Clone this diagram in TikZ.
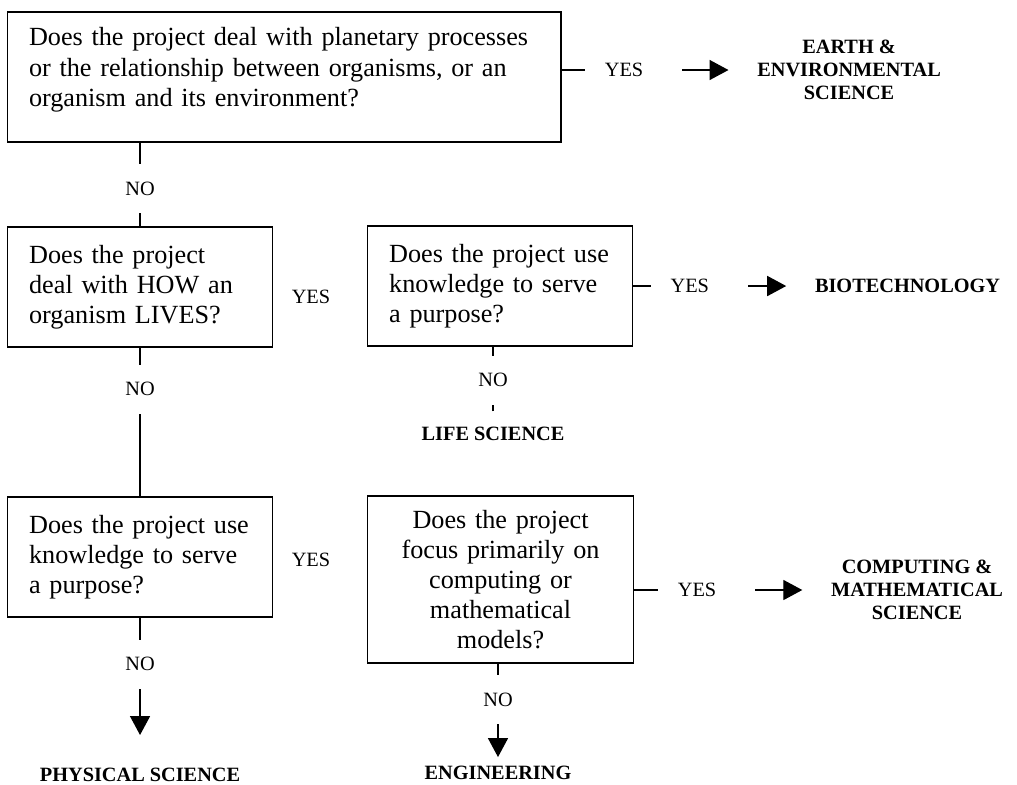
\documentclass[tikz,border=0pt]{standalone}
\usepackage{fontspec}
\setmainfont{Liberation Serif}
\usetikzlibrary{arrows.meta}

\begin{document}
\begin{tikzpicture}
\tikzstyle{question}=[rectangle,draw,line width=0.6pt,align=left,text width=3.57cm,inner xsep=10pt,inner ysep=3pt,minimum height=1.93cm,font=\fontsize{12}{13.8}\selectfont]
\tikzstyle{result}=[align=center,inner xsep=13pt,inner ysep=4pt,font=\fontsize{9.3}{10.6}\selectfont\bfseries]
\tikzstyle{answer}=[font=\fontsize{9.3}{10.6}\selectfont]
\tikzstyle{yeslabel}=[answer,fill=white,text width=26.1pt,align=left,inner xsep=9.2pt,inner ysep=2pt,pos=0.57]
\tikzstyle{nolabel}=[answer,fill=white,inner xsep=2pt,inner ysep=8.1pt]
\tikzstyle{arrow}=[{Triangle[length=8.7pt,width=9.2pt]}-,line width=0.6pt]
\tikzstyle{connector}=[line width=0.6pt]
\useasboundingbox (0,0) rectangle (16.37,-12.62);
\node (n1) [question,text width=8.21cm,minimum height=2.09cm] at (4.572,-1.239) {Does the project deal with planetary processes\\or the relationship between organisms, or an\\organism and its environment?\rule[-9.1pt]{0pt}{9.1pt}};
\node (n2) [result] at (13.667,-1.127) {EARTH \&\\ENVIRONMENTAL\\SCIENCE} edge [arrow] node [yeslabel] {YES} (n1.east |- n2);
\node (n3) [question] at (2.254,-4.620) {Does the project\\deal with HOW an\\organism LIVES?} edge [connector] node [nolabel,pos=0.45] {NO} (n1.south -| n3);
\node (n4) [question] at (8.049,-4.604) {Does the project use\\knowledge to serve\\a purpose?};
\node (y1) [answer] at (5.006,-4.781) {YES};
\node (n5) [result] at (14.608,-4.604) {BIOTECHNOLOGY} edge [arrow] node [yeslabel] {YES} (n4.east |- n5);
\node (n6) [result] at (7.936,-6.986) {LIFE SCIENCE} edge [connector,shorten <=3pt] node [nolabel,pos=0.53] {NO} (n4.south -| n6);
\node (n7) [question] at (2.254,-8.966) {Does the project use\\knowledge to serve\\a purpose?} edge [connector] node [nolabel,pos=0.72] {NO} (n3.south -| n7);
\node (n8) [question,align=center,minimum height=2.69cm] at (8.057,-9.328) {Does the project\\focus primarily on\\computing or\\mathematical\\models?};
\node (y2) [answer] at (5.006,-9.014) {YES};
\node (n9) [result] at (14.761,-9.497) {COMPUTING \&\\MATHEMATICAL\\SCIENCE} edge [arrow] node [yeslabel] {YES} (n8.east |- n9);
\node (n10) [result] at (2.254,-12.475) {PHYSICAL SCIENCE} edge [arrow,shorten <=11pt] node [nolabel,pos=0.67] {NO} (n7.south -| n10);
\node (n11) [result] at (8.016,-12.443) {ENGINEERING} edge [arrow] node [nolabel,pos=0.615] {NO} (n8.south -| n11);
\end{tikzpicture}
\end{document}
